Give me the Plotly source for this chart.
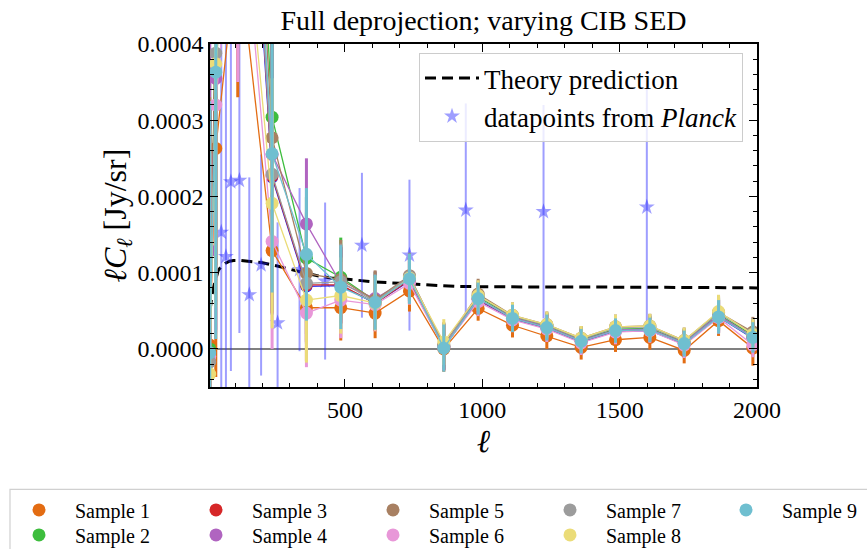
import plotly.graph_objects as go

SCALE = 1e-4  # values below are in units of 1e-4 Jy/sr

# ---------------- data ----------------
ell_bins = [8, 30, 110, 235, 360, 485, 610, 735, 860, 985, 1110, 1235, 1360, 1485, 1610, 1735, 1860, 1985]

sample_1 = [0.05, 2.63, 5.3, 1.29, 0.54, 0.54, 0.47, 0.76, 0.00, 0.53, 0.31, 0.17, 0.02, 0.12, 0.15, -0.02, 0.37, 0.01]
sample_2 = [0.00, 4.6, 12.0, 3.04, 1.19, 0.94, 0.63, 0.93, 0.03, 0.68, 0.42, 0.30, 0.12, 0.26, 0.27, 0.09, 0.45, 0.18]
sample_3 = [-0.05, 4.4, 10.0, 2.27, 0.84, 0.84, 0.60, 0.90, 0.02, 0.65, 0.40, 0.28, 0.10, 0.24, 0.25, 0.07, 0.43, 0.15]
sample_4 = [1.29, 3.55, 9.0, 2.55, 1.64, 0.86, 0.66, 0.92, 0.03, 0.66, 0.41, 0.29, 0.11, 0.25, 0.26, 0.08, 0.44, 0.16]
sample_5 = [-0.10, 4.5, 11.0, 2.77, 0.99, 0.91, 0.64, 0.96, 0.05, 0.72, 0.44, 0.32, 0.14, 0.29, 0.30, 0.11, 0.48, 0.22]
sample_6 = [-0.10, 3.20, 6.6, 1.41, 0.47, 0.64, 0.58, 0.86, 0.02, 0.62, 0.38, 0.26, 0.08, 0.22, 0.24, 0.05, 0.41, 0.05]
sample_7 = [-0.17, 3.88, 10.0, 2.29, 0.86, 0.88, 0.62, 0.95, 0.04, 0.70, 0.43, 0.31, 0.13, 0.28, 0.29, 0.10, 0.47, 0.20]
sample_8 = [-0.33, 3.74, 6.7, 1.91, 0.64, 0.70, 0.60, 0.93, 0.09, 0.70, 0.44, 0.32, 0.14, 0.29, 0.30, 0.11, 0.49, 0.19]
sample_9 = [-0.05, 3.63, 10.0, 2.56, 1.24, 0.81, 0.61, 0.92, 0.01, 0.66, 0.40, 0.28, 0.10, 0.24, 0.25, 0.07, 0.42, 0.15]
sample_extra = [-0.05, 4.2, 9.5, 2.25, 0.82, 0.83, 0.60, 0.89, 0.02, 0.64, 0.39, 0.27, 0.09, 0.23, 0.24, 0.06, 0.42, 0.14]

err_1 = [3.0, 3.0, 2.0, 0.50, 0.70, 0.43, 0.33, 0.27, 0.30, 0.16, 0.16, 0.17, 0.16, 0.16, 0.16, 0.17, 0.20, 0.23]
err_2 = [3.5, 3.5, 3.0, 1.90, 0.80, 0.52, 0.38, 0.30, 0.30, 0.20, 0.17, 0.17, 0.16, 0.16, 0.16, 0.17, 0.22, 0.20]
err_3 = [3.3, 3.3, 3.0, 1.80, 0.75, 0.50, 0.36, 0.30, 0.30, 0.20, 0.17, 0.17, 0.16, 0.16, 0.16, 0.17, 0.22, 0.20]
err_4 = [3.3, 3.3, 3.0, 1.80, 0.86, 0.50, 0.36, 0.30, 0.30, 0.20, 0.17, 0.17, 0.16, 0.16, 0.16, 0.17, 0.22, 0.20]
err_5 = [3.4, 3.4, 3.0, 1.90, 0.80, 0.52, 0.39, 0.30, 0.30, 0.20, 0.17, 0.17, 0.16, 0.16, 0.16, 0.17, 0.22, 0.20]
err_6 = [3.0, 3.0, 3.1, 1.41, 0.71, 0.50, 0.35, 0.28, 0.30, 0.19, 0.16, 0.17, 0.16, 0.16, 0.16, 0.17, 0.21, 0.16]
err_7 = [3.3, 3.3, 3.0, 1.80, 0.75, 0.50, 0.36, 0.30, 0.30, 0.20, 0.17, 0.17, 0.16, 0.16, 0.16, 0.17, 0.22, 0.20]
err_8 = [3.2, 3.2, 2.5, 1.64, 0.82, 0.50, 0.36, 0.30, 0.30, 0.20, 0.17, 0.17, 0.16, 0.16, 0.16, 0.17, 0.22, 0.20]
err_9 = [3.3, 3.5, 3.0, 1.82, 0.87, 0.55, 0.36, 0.33, 0.31, 0.21, 0.18, 0.17, 0.16, 0.16, 0.16, 0.17, 0.22, 0.20]
err_extra = [3.3, 3.3, 3.0, 1.80, 0.75, 0.50, 0.36, 0.30, 0.30, 0.20, 0.17, 0.17, 0.16, 0.16, 0.16, 0.17, 0.22, 0.20]

theory_ell = [9, 12, 16, 22, 30, 39, 50, 64, 80, 95, 120, 150, 200, 250, 300, 350, 400, 450,
              520, 600, 700, 800, 900, 1000, 1200, 1500, 1800, 2000]
theory_val = [0.50, 0.60, 0.70, 0.81, 0.93, 1.03, 1.08, 1.12, 1.15, 1.16, 1.16, 1.15, 1.13, 1.09,
              1.04, 1.00, 0.96, 0.93, 0.91, 0.88, 0.86, 0.835, 0.82, 0.815, 0.81, 0.81, 0.805, 0.80]

planck_ell = [50, 67, 85, 116, 152, 195, 255, 335, 428, 562, 735, 940, 1223, 1599]
planck_val = [1.53, 1.21, 2.19, 2.21, 0.71, 1.10, 0.34, 1.04, 0.89, 1.36, 1.23, 1.82, 1.80, 1.86]
planck_err = [3.0, 3.0, 2.48, 2.00, 1.54, 1.45, 1.32, 1.07, 1.03, 0.95, 0.99, 1.40, 1.40, 1.72]

sample_names = ["Sample 1", "Sample 2", "Sample 3", "Sample 4", "Sample 5",
                "Sample 6", "Sample 7", "Sample 8", "Sample 9"]
sample_colors = ["#e36c12", "#3dbd3d", "#d62728", "#b064c0", "#a88062",
                 "#e897d8", "#9c9c9c", "#ebdc78", "#6fbfd0"]
sample_legends = ["legend2", "legend3", "legend2", "legend3", "legend2",
                  "legend3", "legend2", "legend3", "legend4"]

samples = [sample_1, sample_2, sample_3, sample_4, sample_5, sample_6, sample_7, sample_8, sample_9]
errors = [err_1, err_2, err_3, err_4, err_5, err_6, err_7, err_8, err_9]

FONT = "Liberation Serif"


def sc(v):
    return [x * SCALE for x in v]


fig = go.Figure()

# theory line
fig.add_trace(go.Scatter(
    x=theory_ell, y=sc(theory_val), mode="lines", name="Theory prediction",
    line=dict(color="black", width=3, dash="11px,6px"), legend="legend", legendrank=1))

# Planck points
fig.add_trace(go.Scatter(
    x=planck_ell, y=sc(planck_val), mode="markers", name="datapoints from <i>Planck</i>",
    marker=dict(symbol="star", size=12, color="rgba(40,40,255,0.45)"),
    error_y=dict(type="data", array=sc(planck_err), color="rgba(40,40,255,0.45)", thickness=2, width=0),
    legend="legend", legendrank=2))

# unlabeled blue series
fig.add_trace(go.Scatter(
    x=ell_bins, y=sc(sample_extra), mode="lines+markers", showlegend=False,
    line=dict(color="#2020ee", width=1.3), marker=dict(size=12, color="#2020ee"),
    error_y=dict(type="data", array=sc(err_extra), color="#2020ee", thickness=3, width=0)))

for i in range(9):
    fig.add_trace(go.Scatter(
        x=ell_bins, y=sc(samples[i]), mode="lines", showlegend=False,
        line=dict(color=sample_colors[i], width=1.3), hoverinfo="skip"))
    fig.add_trace(go.Scatter(
        x=ell_bins, y=sc(samples[i]), mode="markers", name=sample_names[i],
        marker=dict(size=13, color=sample_colors[i]),
        error_y=dict(type="data", array=sc(errors[i]), color=sample_colors[i], thickness=3, width=0),
        legend=sample_legends[i], legendrank=i + 1))

axis_common = dict(
    showline=True, linecolor="black", linewidth=1.5, mirror="allticks",
    ticks="inside", ticklen=8, tickwidth=1.3, tickcolor="black",
    showgrid=False, tickfont=dict(family=FONT, size=24, color="black"),
)

fig.update_xaxes(
    range=[9, 2000], tickvals=[500, 1000, 1500, 2000], zeroline=False,
    minor=dict(dtick=100, tick0=0, ticks="inside", ticklen=4, tickcolor="black", showgrid=False),
    title=dict(text="<i>ℓ</i>", font=dict(family=FONT, size=32, color="black"), standoff=0),
    **axis_common)
fig.update_yaxes(
    range=[-0.00005, 0.0004], tickvals=[0, 0.0001, 0.0002, 0.0003, 0.0004], tickformat=".4f",
    zeroline=True, zerolinecolor="#808080", zerolinewidth=1.6,
    minor=dict(dtick=0.00002, tick0=0, ticks="inside", ticklen=4, tickcolor="black", showgrid=False),
    title=dict(text="<i>ℓC</i><sub><i>ℓ</i></sub> [Jy/sr]", font=dict(family=FONT, size=32, color="black"), standoff=1),
    **axis_common)

PX0, PX1, PYT, PYB = 210.0, 757.0, 44.0, 386.7


def px(xp):
    return (xp - PX0) / (PX1 - PX0)


def py(yp):
    return (PYB - yp) / (PYB - PYT)


# box of bottom legend
fig.add_shape(type="rect", xref="paper", yref="paper",
              x0=px(10), x1=px(885), y0=py(489), y1=py(565),
              line=dict(color="#d0d0d0", width=1.2), fillcolor="rgba(0,0,0,0)", layer="above")

leg_bottom = dict(orientation="h", xanchor="left", yanchor="top", bgcolor="rgba(0,0,0,0)",
                  borderwidth=0, font=dict(family=FONT, size=20, color="black"),
                  itemwidth=62, entrywidth=100, entrywidthmode="pixels", tracegroupgap=0)

fig.update_layout(
    width=867, height=549,
    margin=dict(l=PX0, r=867 - PX1, t=PYT, b=549 - PYB, pad=0, autoexpand=False),
    paper_bgcolor="white", plot_bgcolor="white",
    title=dict(text="Full deprojection; varying CIB SED", x=(PX0 + PX1) / 2 / 867, xanchor="center",
               y=1 - 20 / 549, yanchor="middle", font=dict(family=FONT, size=28, color="black")),
    legend=dict(x=px(743), y=py(53), xanchor="right", yanchor="top",
                bgcolor="rgba(255,255,255,0.8)", bordercolor="#cccccc", borderwidth=1,
                font=dict(family=FONT, size=27, color="black"), itemwidth=54, tracegroupgap=0),
    legend2=dict(x=px(3), y=py(490), **leg_bottom),
    legend3=dict(x=px(3), y=py(515), **leg_bottom),
    legend4=dict(x=px(710), y=py(490), **leg_bottom),
    showlegend=True,
)

fig.write_html("out.html")
